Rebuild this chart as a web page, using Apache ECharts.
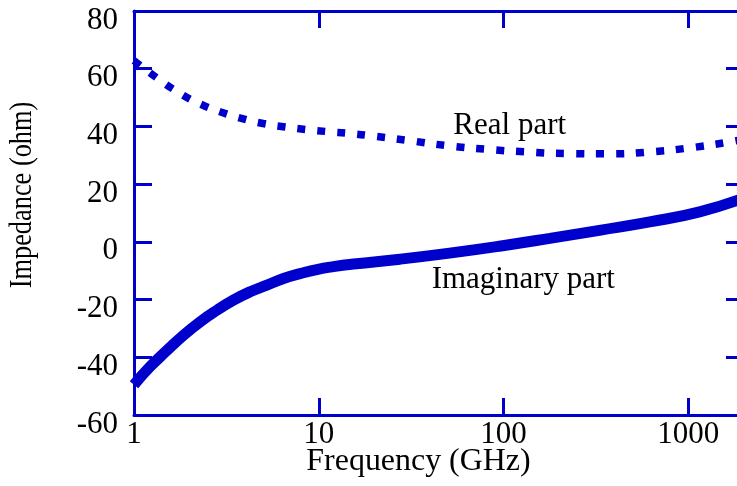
<!DOCTYPE html>
<html>
<head>
<meta charset="utf-8">
<script src="https://cdn.jsdelivr.net/npm/echarts@6/dist/echarts.min.js"></script>
<style>
  html, body { margin: 0; padding: 0; background: #fff; }
  #chart { width: 737px; height: 486px; }
</style>
</head>
<body>
<div id="chart"></div>
<script>
// Frequency sweep (GHz) and impedance components (ohm)
const freqReal = [1, 1.33, 1.76, 2.28, 2.95, 3.86, 5.0, 6.58, 8.61, 11.2, 14.6, 20, 30, 50, 80, 130, 220, 380, 630, 1000, 1600, 2000];
const realPart = [62.8, 56.8, 51.6, 47.8, 45.0, 42.7, 41.0, 39.8, 38.9, 38.2, 37.6, 36.6, 35.2, 33.3, 32.1, 31.2, 30.6, 30.5, 31.2, 32.5, 34.4, 35.6];

const freqImag = [1, 1.22, 1.51, 1.85, 2.28, 2.81, 3.45, 4.25, 5.24, 6.44, 7.93, 9.75, 12, 15.4, 27.5, 51, 95, 178, 330, 618, 1150, 2000];
const imagPart = [-49.5, -43.3, -37.6, -32.4, -27.7, -23.7, -20.2, -17.3, -15.0, -12.7, -11.0, -9.6, -8.6, -7.7, -6.0, -3.9, -1.5, 1.2, 4.0, 6.9, 10.4, 15.2];

const xTicks = [1, 10, 100, 1000];
const yTicks = [-60, -40, -20, 0, 20, 40, 60, 80];

const BLUE = '#0000cc';
const FONT = 'Liberation Serif';

const chart = echarts.init(document.getElementById('chart'), null, { renderer: 'canvas' });

const pairs = (xs, ys) => xs.map((x, i) => [x, ys[i]]);

const xBase = {
  type: 'log',
  logBase: 10,
  min: xTicks[0],
  max: 2000,
  axisLine: { show: true, onZero: false, lineStyle: { color: BLUE, width: 3 } },
  axisTick: { show: true, inside: true, length: 17, lineStyle: { color: BLUE, width: 3 } },
  minorTick: { show: false },
  splitLine: { show: false }
};
const yBase = {
  type: 'value',
  min: yTicks[0],
  max: yTicks[yTicks.length - 1],
  interval: 20,
  axisLine: { show: true, onZero: false, lineStyle: { color: BLUE, width: 3 } },
  axisTick: { show: true, inside: true, length: 18, lineStyle: { color: BLUE, width: 3 } },
  splitLine: { show: false }
};

chart.setOption({
  animation: false,
  backgroundColor: '#ffffff',
  grid: { left: 134, top: 11, width: 610, height: 404, containLabel: false, outerBoundsMode: 'none' },
  xAxis: [
    Object.assign({}, xBase, {
      position: 'bottom',
      axisLabel: {
        show: true, margin: 4, color: '#000', fontFamily: FONT, fontSize: 31,
        showMaxLabel: false,
        formatter: v => String(Math.round(v))
      }
    }),
    Object.assign({}, xBase, { position: 'top', axisLabel: { show: false } })
  ],
  yAxis: [
    Object.assign({}, yBase, {
      position: 'left',
      axisLabel: {
        show: true, margin: 16, color: '#000', fontFamily: FONT, fontSize: 31,
        verticalAlign: 'top', lineHeight: 19
      }
    }),
    Object.assign({}, yBase, { position: 'right', axisLabel: { show: false } })
  ],
  series: [
    {
      name: 'Real part',
      type: 'line',
      xAxisIndex: 0, yAxisIndex: 0,
      data: pairs(freqReal, realPart),
      smooth: true,
      showSymbol: false,
      lineStyle: { color: BLUE, width: 7.5, type: [8, 12], cap: 'butt' }
    },
    {
      name: 'Imaginary part',
      type: 'line',
      xAxisIndex: 0, yAxisIndex: 0,
      data: pairs(freqImag, imagPart),
      smooth: true,
      showSymbol: false,
      lineStyle: { color: BLUE, width: 11, cap: 'butt' }
    }
  ],
  graphic: [
    { type: 'text', x: 509.7, y: 125.5, style: { text: 'Real part', font: '31px "Liberation Serif"', fill: '#000', align: 'center', verticalAlign: 'middle' } },
    { type: 'text', x: 523.3, y: 280, style: { text: 'Imaginary part', font: '31px "Liberation Serif"', fill: '#000', align: 'center', verticalAlign: 'middle' } },
    { type: 'text', x: 418.5, y: 462, scaleX: 1.03, style: { text: 'Frequency (GHz)', font: '31px "Liberation Serif"', fill: '#000', align: 'center', verticalAlign: 'middle' } },
    { type: 'text', x: 23, y: 195, rotation: Math.PI / 2, scaleX: 0.85, style: { text: 'Impedance (ohm)', font: '31px "Liberation Serif"', fill: '#000', align: 'center', verticalAlign: 'middle' } }
  ]
});
</script>
</body>
</html>
